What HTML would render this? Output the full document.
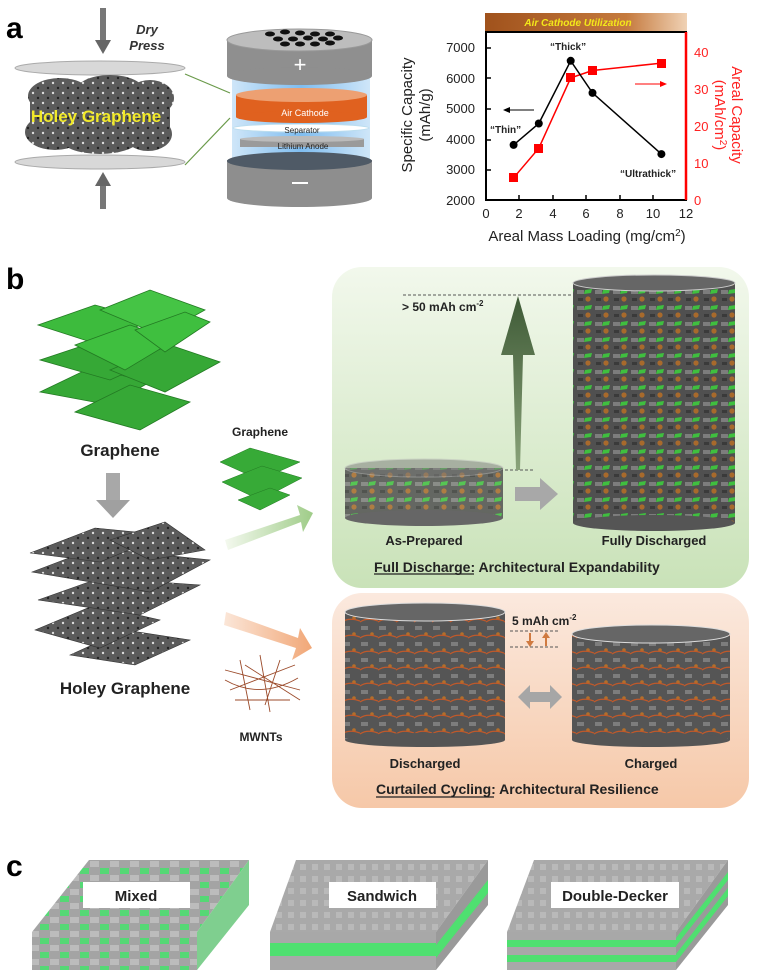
<!DOCTYPE html>
<html><head><meta charset="utf-8"><style>
html,body{margin:0;padding:0;background:#fff;width:765px;height:978px;overflow:hidden}
svg{display:block}
text{font-family:"Liberation Sans",Arial,sans-serif}
</style></head><body>
<svg width="765" height="978" viewBox="0 0 765 978" xmlns="http://www.w3.org/2000/svg">
<defs>
<linearGradient id="gbox" x1="0" y1="0" x2="0" y2="1"><stop offset="0" stop-color="#f2f8ec"/><stop offset="1" stop-color="#c9e2b8"/></linearGradient>
<linearGradient id="pbox" x1="0" y1="0" x2="0" y2="1"><stop offset="0" stop-color="#fbe9de"/><stop offset="1" stop-color="#f6c8a8"/></linearGradient>
<linearGradient id="tbar" x1="0" x2="1"><stop offset="0" stop-color="#a0521c"/><stop offset="0.7" stop-color="#c57a3e"/><stop offset="1" stop-color="#f0d2b5"/></linearGradient>
<linearGradient id="glow" x1="0" x2="1"><stop offset="0" stop-color="#cfe6f8"/><stop offset="0.5" stop-color="#7fbdf0"/><stop offset="1" stop-color="#cfe6f8"/></linearGradient>
<linearGradient id="garr" x1="0" x2="1"><stop offset="0" stop-color="#f4f9ef"/><stop offset="1" stop-color="#9fcc88"/></linearGradient>
<linearGradient id="parr" x1="0" x2="1"><stop offset="0" stop-color="#fbe6d8"/><stop offset="1" stop-color="#f1a777"/></linearGradient>
<linearGradient id="bigarr" x1="0" y1="1" x2="0" y2="0"><stop offset="0" stop-color="#8aa37a"/><stop offset="1" stop-color="#3e5a36"/></linearGradient>
<pattern id="holey" width="10" height="10" patternUnits="userSpaceOnUse"><rect width="10" height="10" fill="#5b5b5b"/><circle cx="3" cy="3" r="1.2" fill="#ddd"/><circle cx="8" cy="8" r="1.2" fill="#222"/></pattern>
<pattern id="mix" width="18" height="16" patternUnits="userSpaceOnUse"><rect width="18" height="16" fill="#505050"/><rect x="1" y="2" width="7" height="4" fill="#7d7d7d"/><circle cx="12" cy="11" r="2.6" fill="#a86a2c"/><polygon points="9,2 16,1 15,5 8,6" fill="#3fbf3f"/><rect x="2" y="10" width="5" height="3" fill="#3a3a3a"/></pattern>
<pattern id="mix2" width="18" height="16" patternUnits="userSpaceOnUse"><rect width="18" height="16" fill="#555"/><rect x="1" y="2" width="7" height="4" fill="#7d7d7d"/><circle cx="12" cy="10" r="1.8" fill="#b46f2a"/><path d="M0 14 Q7 9 18 13" stroke="#c0592a" stroke-width="1.2" fill="none"/></pattern>
<pattern id="gsheet" width="12" height="12" patternUnits="userSpaceOnUse"><rect width="12" height="12" fill="#a9a9a9"/><rect x="0" y="0" width="6" height="6" fill="#b9b9b9"/></pattern>
<pattern id="gmix" width="20" height="14" patternUnits="userSpaceOnUse"><rect width="20" height="14" fill="#a4a4a4"/><rect x="0" y="0" width="9" height="6" fill="#55d875"/><rect x="10" y="7" width="9" height="6" fill="#bcbcbc"/></pattern>
</defs>

<!-- PANEL A -->
<text x="6" y="38" font-size="30" font-weight="bold">a</text>
<rect x="100" y="8" width="6" height="36" fill="#777"/><polygon points="95,40 111,40 103,54" fill="#666"/>
<text x="147" y="34" font-size="13" font-weight="bold" font-style="italic" text-anchor="middle" fill="#333">Dry</text>
<text x="147" y="50" font-size="13" font-weight="bold" font-style="italic" text-anchor="middle" fill="#333">Press</text>
<ellipse cx="100" cy="68" rx="85" ry="7" fill="#d8d8d8" stroke="#aaa"/>
<g fill="url(#holey)">
<ellipse cx="60" cy="96" rx="32" ry="18"/><ellipse cx="110" cy="92" rx="35" ry="17"/><ellipse cx="150" cy="98" rx="24" ry="18"/>
<ellipse cx="55" cy="132" rx="30" ry="18"/><ellipse cx="100" cy="138" rx="40" ry="16"/><ellipse cx="148" cy="134" rx="24" ry="17"/>
<rect x="30" y="100" width="140" height="35"/>
</g>
<text x="96" y="122" font-size="17" font-weight="bold" fill="#f2ea2a" text-anchor="middle">Holey Graphene</text>
<ellipse cx="100" cy="162" rx="85" ry="7" fill="#d8d8d8" stroke="#aaa"/>
<rect x="100" y="182" width="6" height="27" fill="#777"/><polygon points="95,186 111,186 103,172" fill="#666"/>
<line x1="185" y1="74" x2="230" y2="93" stroke="#6a9a4a" stroke-width="1.2"/>
<line x1="185" y1="165" x2="230" y2="118" stroke="#6a9a4a" stroke-width="1.2"/>
<!-- cell -->
<rect x="232" y="74" width="138" height="88" fill="url(#glow)"/>
<rect x="227" y="40" width="145" height="36" fill="#8f8f8f"/>
<ellipse cx="299.5" cy="76" rx="72.5" ry="9" fill="#8f8f8f"/>
<ellipse cx="299.5" cy="40" rx="72.5" ry="11" fill="#bdbdbd" stroke="#999"/>
<g fill="#111"><ellipse cx="270" cy="34" rx="5" ry="2.5"/><ellipse cx="285" cy="32" rx="5" ry="2.5"/><ellipse cx="300" cy="33" rx="5" ry="2.5"/><ellipse cx="315" cy="34" rx="5" ry="2.5"/><ellipse cx="330" cy="34" rx="5" ry="2.5"/><ellipse cx="278" cy="39" rx="5" ry="2.5"/><ellipse cx="293" cy="39" rx="5" ry="2.5"/><ellipse cx="308" cy="38" rx="5" ry="2.5"/><ellipse cx="323" cy="39" rx="5" ry="2.5"/><ellipse cx="338" cy="38" rx="5" ry="2.5"/><ellipse cx="285" cy="44" rx="5" ry="2.5"/><ellipse cx="300" cy="44" rx="5" ry="2.5"/><ellipse cx="315" cy="44" rx="5" ry="2.5"/><ellipse cx="330" cy="43" rx="5" ry="2.5"/></g>
<text x="300" y="72" font-size="22" fill="#fff" text-anchor="middle">+</text>
<rect x="236" y="95" width="131" height="22" fill="#e0611f"/>
<ellipse cx="301.5" cy="117" rx="65.5" ry="6" fill="#e0611f"/>
<ellipse cx="301.5" cy="95" rx="65.5" ry="7" fill="#eda072"/>
<text x="305" y="116" font-size="9" fill="#fff" text-anchor="middle">Air Cathode</text>
<ellipse cx="301" cy="128" rx="68" ry="4" fill="#fff" stroke="#bde" stroke-width="1"/>
<text x="302" y="133" font-size="8" fill="#222" text-anchor="middle">Separator</text>
<rect x="240" y="139" width="124" height="8" fill="#9a9a9a"/>
<ellipse cx="302" cy="139" rx="62" ry="3" fill="#bbb"/>
<text x="303" y="149" font-size="8" fill="#222" text-anchor="middle">Lithium Anode</text>
<rect x="227" y="160" width="145" height="38" fill="#8e8e8e"/>
<ellipse cx="299.5" cy="198" rx="72.5" ry="9" fill="#8e8e8e"/>
<ellipse cx="299.5" cy="161" rx="72.5" ry="9" fill="#4f5a66"/>
<rect x="292" y="182" width="16" height="2" fill="#fff"/>
<!-- chart -->
<rect x="485" y="13" width="202" height="18" fill="url(#tbar)"/>
<text x="578" y="26" font-size="10" font-weight="bold" font-style="italic" fill="#f3e81a" text-anchor="middle">Air Cathode Utilization</text>
<rect x="486" y="32" width="200" height="168" fill="none" stroke="#000" stroke-width="2"/>
<line x1="686" y1="32" x2="686" y2="200" stroke="#f00" stroke-width="2.5"/>
<g font-size="13" text-anchor="end" fill="#222">
<text x="475" y="52">7000</text><text x="475" y="83">6000</text><text x="475" y="113">5000</text><text x="475" y="144">4000</text><text x="475" y="174">3000</text><text x="475" y="205">2000</text></g>
<g stroke="#000" stroke-width="1.5"><line x1="486" y1="48" x2="491" y2="48"/><line x1="486" y1="78" x2="491" y2="78"/><line x1="486" y1="109" x2="491" y2="109"/><line x1="486" y1="140" x2="491" y2="140"/><line x1="486" y1="170" x2="491" y2="170"/>
<line x1="519" y1="200" x2="519" y2="195"/><line x1="553" y1="200" x2="553" y2="195"/><line x1="586" y1="200" x2="586" y2="195"/><line x1="620" y1="200" x2="620" y2="195"/><line x1="653" y1="200" x2="653" y2="195"/></g>
<g font-size="13" text-anchor="middle" fill="#222"><text x="486" y="218">0</text><text x="519" y="218">2</text><text x="553" y="218">4</text><text x="586" y="218">6</text><text x="620" y="218">8</text><text x="653" y="218">10</text><text x="686" y="218">12</text></g>
<text x="587" y="241" font-size="15" text-anchor="middle" fill="#222">Areal Mass Loading (mg/cm<tspan font-size="10" dy="-5">2</tspan><tspan dy="5">)</tspan></text>
<g font-size="13" fill="#f22"><text x="694" y="57">40</text><text x="694" y="94">30</text><text x="694" y="131">20</text><text x="694" y="168">10</text><text x="694" y="205">0</text></g>
<text transform="translate(412,115) rotate(-90)" font-size="15" text-anchor="middle" fill="#222">Specific Capacity</text>
<text transform="translate(430,115) rotate(-90)" font-size="15" text-anchor="middle" fill="#222">(mAh/g)</text>
<text transform="translate(732,115) rotate(90)" font-size="15" text-anchor="middle" fill="#f22">Areal Capacity</text>
<text transform="translate(715,115) rotate(90)" font-size="15" text-anchor="middle" fill="#f22">(mAh/cm<tspan font-size="10" dy="-5">2</tspan><tspan dy="5">)</tspan></text>
<polyline points="513.6,177.8 538.8,148.2 570.7,77.9 592.5,70.5 661.4,63.1" fill="none" stroke="#f00" stroke-width="1.5"/>
<g fill="#f00"><rect x="509" y="173" width="9" height="9"/><rect x="534" y="144" width="9" height="9"/><rect x="566" y="73" width="9" height="9"/><rect x="588" y="66" width="9" height="9"/><rect x="657" y="59" width="9" height="9"/></g>
<polyline points="513.6,144.9 538.8,123.5 570.7,60.8 592.5,92.9 661.4,154.1" fill="none" stroke="#000" stroke-width="1.5"/>
<g fill="#000"><circle cx="513.6" cy="144.9" r="4"/><circle cx="538.8" cy="123.5" r="4"/><circle cx="570.7" cy="60.8" r="4"/><circle cx="592.5" cy="92.9" r="4"/><circle cx="661.4" cy="154.1" r="4"/></g>
<g font-size="10" font-weight="bold" fill="#222"><text x="550" y="50">“Thick”</text><text x="490" y="133">“Thin”</text><text x="620" y="177">“Ultrathick”</text></g>
<line x1="506" y1="110" x2="534" y2="110" stroke="#000"/><polygon points="503,110 510,107 510,113" fill="#000"/>
<line x1="635" y1="84" x2="663" y2="84" stroke="#f00"/><polygon points="667,84 660,81 660,87" fill="#f00"/>

<!-- PANEL B -->
<text x="6" y="289" font-size="30" font-weight="bold">b</text>
<g fill="#36a836" stroke="#237a23" stroke-width="0.8">
<polygon points="40,392 90,368 150,382 110,405"/><polygon points="75,412 130,385 190,402 140,430"/>
<polygon points="40,360 100,340 165,355 110,380"/><polygon points="110,370 170,345 220,362 165,392"/>
<polygon points="38,325 95,305 150,320 100,345" fill="#3dbb3d"/><polygon points="100,310 150,290 205,310 160,335" fill="#45c445"/>
<polygon points="75,345 130,325 175,340 125,370" fill="#3fbf3f"/><polygon points="135,330 185,312 210,322 165,352" fill="#3fbf3f"/>
</g>
<text x="120" y="456" font-size="17" font-weight="bold" text-anchor="middle" fill="#222">Graphene</text>
<rect x="106" y="473" width="14" height="28" fill="#a8a8a8"/><polygon points="96,500 130,500 113,518" fill="#a0a0a0"/>
<g fill="#5a5a5a" stroke="#333" stroke-width="0.6">
<polygon points="70,655 125,630 190,640 135,665" fill="url(#holey)"/>
<polygon points="35,630 95,605 160,620 100,648" fill="url(#holey)"/>
<polygon points="38,600 100,578 200,585 140,615" fill="url(#holey)"/>
<polygon points="32,572 95,548 210,560 150,592" fill="url(#holey)"/>
<polygon points="30,553 95,528 165,535 100,562" fill="url(#holey)"/>
<polygon points="110,540 165,522 205,550 150,560" fill="url(#holey)"/>
</g>
<text x="125" y="694" font-size="17" font-weight="bold" text-anchor="middle" fill="#222">Holey Graphene</text>
<text x="260" y="436" font-size="12" font-weight="bold" text-anchor="middle" fill="#222">Graphene</text>
<g fill="#37aa37" stroke="#237a23" stroke-width="0.5">
<polygon points="220,462 250,448 300,462 260,480"/><polygon points="222,482 262,466 302,478 260,500"/><polygon points="238,500 270,488 290,495 260,510"/></g>
<polygon points="225,540 300,515 297,505 313,513 303,532 301,522 228,550" fill="url(#garr)"/>
<polygon points="226,612 298,638 300,628 312,648 292,660 296,648 224,625" fill="url(#parr)"/>
<g stroke="#9b4a2a" stroke-width="0.9" fill="none">
<path d="M225 670 L300 690 M230 690 L295 665 M240 660 L250 710 M260 655 L270 712 M280 660 L265 705 M225 680 Q260 700 298 678 M235 700 L290 700 M245 665 L300 700"/></g>
<text x="261" y="741" font-size="12" font-weight="bold" text-anchor="middle" fill="#222">MWNTs</text>

<!-- green box -->
<rect x="332" y="267" width="417" height="321" rx="30" fill="url(#gbox)"/>
<line x1="403" y1="295" x2="573" y2="295" stroke="#555" stroke-dasharray="3,2"/>
<line x1="500" y1="470" x2="535" y2="470" stroke="#555" stroke-dasharray="3,2"/>
<text x="402" y="311" font-size="12" font-weight="bold" fill="#222">&gt; 50 mAh cm<tspan font-size="8" dy="-5">-2</tspan></text>
<polygon points="518,296 535,355 523,355 520,470 516,470 513,355 501,355" fill="url(#bigarr)"/>
<rect x="345" y="468" width="158" height="50" fill="url(#mix)" opacity="0.85"/>
<ellipse cx="424" cy="468" rx="79" ry="9" fill="#777" opacity="0.5" stroke="#bbb"/>
<ellipse cx="424" cy="518" rx="79" ry="8" fill="#666"/>
<polygon points="515,487 540,487 540,478 558,494 540,510 540,501 515,501" fill="#a8a8a8"/>
<rect x="573" y="283" width="162" height="240" fill="url(#mix)"/>
<ellipse cx="654" cy="283" rx="81" ry="8" fill="#666" stroke="#ccc"/>
<ellipse cx="654" cy="523" rx="81" ry="8" fill="#555"/>
<text x="424" y="545" font-size="13" font-weight="bold" text-anchor="middle" fill="#222">As-Prepared</text>
<text x="654" y="545" font-size="13" font-weight="bold" text-anchor="middle" fill="#222">Fully Discharged</text>
<text x="374" y="572" font-size="14" font-weight="bold" fill="#222">Full Discharge: Architectural Expandability</text>
<line x1="374" y1="574" x2="474" y2="574" stroke="#222" stroke-width="1.2"/>

<!-- peach box -->
<rect x="332" y="593" width="417" height="215" rx="30" fill="url(#pbox)"/>
<rect x="345" y="612" width="160" height="128" fill="url(#mix2)"/>
<ellipse cx="425" cy="612" rx="80" ry="9" fill="#666" stroke="#ddd"/>
<ellipse cx="425" cy="740" rx="80" ry="7" fill="#555"/>
<rect x="572" y="634" width="158" height="106" fill="url(#mix2)"/>
<ellipse cx="651" cy="634" rx="79" ry="9" fill="#666" stroke="#ddd"/>
<ellipse cx="651" cy="740" rx="79" ry="7" fill="#555"/>
<text x="512" y="625" font-size="12" font-weight="bold" fill="#222">5 mAh cm<tspan font-size="8" dy="-5">-2</tspan></text>
<line x1="510" y1="631" x2="560" y2="631" stroke="#555" stroke-dasharray="3,2"/>
<line x1="510" y1="647" x2="560" y2="647" stroke="#555" stroke-dasharray="3,2"/>
<line x1="530" y1="633" x2="530" y2="642" stroke="#d07a40" stroke-width="2"/><polygon points="526,641 534,641 530,647" fill="#d07a40"/>
<line x1="546" y1="637" x2="546" y2="646" stroke="#d07a40" stroke-width="2"/><polygon points="542,638 550,638 546,632" fill="#d07a40"/>
<polygon points="518,697 530,685 530,692 550,692 550,685 562,697 550,709 550,702 530,702 530,709" fill="#a6a6a6"/>
<text x="425" y="768" font-size="13" font-weight="bold" text-anchor="middle" fill="#222">Discharged</text>
<text x="651" y="768" font-size="13" font-weight="bold" text-anchor="middle" fill="#222">Charged</text>
<text x="376" y="794" font-size="14" font-weight="bold" fill="#222">Curtailed Cycling: Architectural Resilience</text>
<line x1="376" y1="797" x2="494" y2="797" stroke="#222" stroke-width="1.2"/>

<!-- PANEL C -->
<text x="6" y="876" font-size="30" font-weight="bold">c</text>
<polygon points="89,860 249,860 197,932 32,932" fill="url(#gmix)"/>
<polygon points="249,860 249,905 197,970 197,932" fill="#7fcf8f"/>
<rect x="32" y="932" width="165" height="38" fill="url(#gmix)"/>
<rect x="83" y="882" width="107" height="26" fill="#fff"/>
<text x="136" y="901" font-size="15" font-weight="bold" text-anchor="middle" fill="#222">Mixed</text>
<polygon points="296,860 488,860 436,932 270,932" fill="url(#gsheet)"/>
<polygon points="488,860 488,905 436,970 436,932" fill="#9a9a9a"/>
<polygon points="488,880 488,893 436,958 436,945" fill="#4fe070"/>
<rect x="270" y="932" width="166" height="38" fill="#a8a8a8"/>
<rect x="270" y="943" width="166" height="13" fill="#4fe070"/>
<rect x="329" y="882" width="107" height="26" fill="#fff"/>
<text x="382" y="901" font-size="15" font-weight="bold" text-anchor="middle" fill="#222">Sandwich</text>
<polygon points="534,860 728,860 676,932 507,932" fill="url(#gsheet)"/>
<polygon points="728,860 728,905 676,970 676,932" fill="#9a9a9a"/>
<polygon points="728,872 728,880 676,946 676,938" fill="#4fe070"/>
<polygon points="728,888 728,896 676,962 676,954" fill="#4fe070"/>
<rect x="507" y="932" width="169" height="38" fill="#a8a8a8"/>
<rect x="507" y="940" width="169" height="7" fill="#4fe070"/>
<rect x="507" y="955" width="169" height="7" fill="#4fe070"/>
<rect x="551" y="882" width="128" height="26" fill="#fff"/>
<text x="615" y="901" font-size="15" font-weight="bold" text-anchor="middle" fill="#222">Double-Decker</text>
</svg>
</body></html>
